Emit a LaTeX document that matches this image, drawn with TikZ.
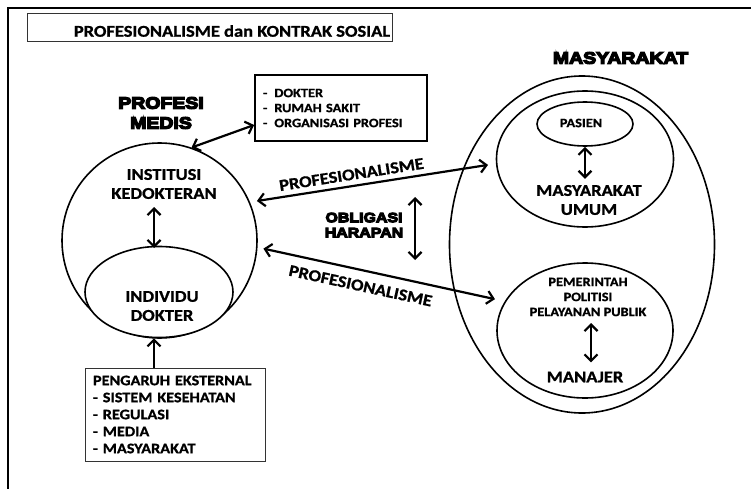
\documentclass[tikz,border=0pt]{standalone}
\usepackage{fontspec}
\setmainfont{Carlito}[FakeStretch=1.12,BoldFeatures={FakeBold=1}]
\newfontfamily\heavyfont{Liberation Sans}[FakeStretch=1.18,BoldFeatures={FakeBold=8}]
\usetikzlibrary{positioning,shapes.geometric,arrows.meta}
\newcommand{\txtsize}[2]{\fontsize{#1}{#2}\selectfont}

\tikzset{
	ring/.style={draw, line width=1.6pt, inner sep=0pt},
	boxed/.style={draw, rectangle, inner sep=0pt},
	bigtxt/.style={font=\bfseries\txtsize{16.5}{19}, align=center, inner sep=0pt},
	smalltxt/.style={font=\bfseries\txtsize{12.8}{15}, align=center, inner sep=0pt},
	heavy/.style={font=\heavyfont\bfseries\txtsize{16.5}{20}, align=center, inner sep=0pt},
	link/.style={line width=2.2pt, {Straight Barb[length=6.5pt,width=13pt]}-{Straight Barb[length=6.5pt,width=13pt]}},
	onelink/.style={line width=2.2pt, -{Straight Barb[length=6.5pt,width=13pt]}},
}

\begin{document}
\begin{tikzpicture}[x=1pt,y=-1pt]
	\useasboundingbox (0,0) rectangle (751,489);
	\draw[line width=1.5pt] (751,8) -- (8,8) -- (8,489);

	\node[boxed, line width=0.8pt, draw=black!80, minimum width=365, minimum height=28] (title) at (209.5,27.5) {};
	\node[bigtxt] (titletext) at (232,31) {PROFESIONALISME dan KONTRAK SOSIAL};

	\node[heavy] (profesi) at (161,113) {PROFESI\\MEDIS};
	\node[boxed, line width=1.8pt, minimum width=172, minimum height=66, text width=156, align=left, font=\bfseries\txtsize{12.8}{15}] (orgs) at (341,108) {-\hspace{7pt}DOKTER\\-\hspace{7pt}RUMAH SAKIT\\-\hspace{7pt}ORGANISASI PROFESI};

	\node[ring, circle, minimum size=195] (inst) at (159.5,240.5) {};
	\node[ring, ellipse, fill=white, minimum width=148, minimum height=91] (indiv) at (159,292) {};
	\node[bigtxt] (insttext) at (164,184) {INSTITUSI\\KEDOKTERAN};
	\node[bigtxt] (indivtext) at (162,306) {INDIVIDU\\DOKTER};
	\coordinate (ia) at (154,207);
	\coordinate (ib) at (154,248);
	\draw[link] (ia) -- (ib);

	\node[boxed, line width=0.8pt, draw=black!80, minimum width=180, minimum height=93, text width=164, align=left, font=\bfseries\txtsize{14.5}{17}] (ext) at (175,414.5) {PENGARUH EKSTERNAL\\- SISTEM KESEHATAN\\- REGULASI\\- MEDIA\\- MASYARAKAT};
	\coordinate (ea) at (154,368);
	\draw[onelink] (ea) -- (ea |- indiv.south);

	\node[heavy] (masytext) at (620.5,58) {MASYARAKAT};
	\node[ring, ellipse, minimum width=265, minimum height=337] (masy) at (582,244.5) {};
	\node[ring, ellipse, minimum width=177, minimum height=136] (umum) at (585,159) {};
	\node[ring, ellipse, minimum width=96, minimum height=44] (pasien) at (585,124) {};
	\node[smalltxt] (pasientext) at (581,123) {PASIEN};
	\node[bigtxt] (umumtext) at (589,200) {MASYARAKAT\\UMUM};
	\draw[link, shorten >=6pt] (pasien.south) -- (pasien.south |- umumtext.north);

	\node[ring, ellipse, minimum width=176, minimum height=135] (pem) at (585,330.5) {};
	\node[smalltxt] (pemtext) at (588,297) {PEMERINTAH\\POLITISI\\PELAYANAN PUBLIK};
	\node[bigtxt] (manajer) at (585,377) {MANAJER};
	\coordinate (pa) at (591,323);
	\draw[link, shorten >=9pt] (pa) -- (pa |- manajer.north);

	\draw[link, shorten <=7pt, shorten >=8pt] (inst.23) -- (umum.183) node[bigtxt, pos=.42, sloped, above=5pt] {PROFESIONALISME};
	\draw[link, shorten <=6pt, shorten >=10pt] (inst.-4) -- (pem.160) node[bigtxt, pos=.43, sloped, below=9pt] {PROFESIONALISME};

	\node[heavy, font=\heavyfont\bfseries\txtsize{13.5}{15}] (oblig) at (364,225) {OBLIGASI\\HARAPAN};
	\coordinate (oa) at (415,197);
	\coordinate (ob) at (415,260);
	\draw[link] (oa) -- (ob);

	\draw[link] (inst.71) -- ([yshift=-17pt]orgs.west);
\end{tikzpicture}
\end{document}
